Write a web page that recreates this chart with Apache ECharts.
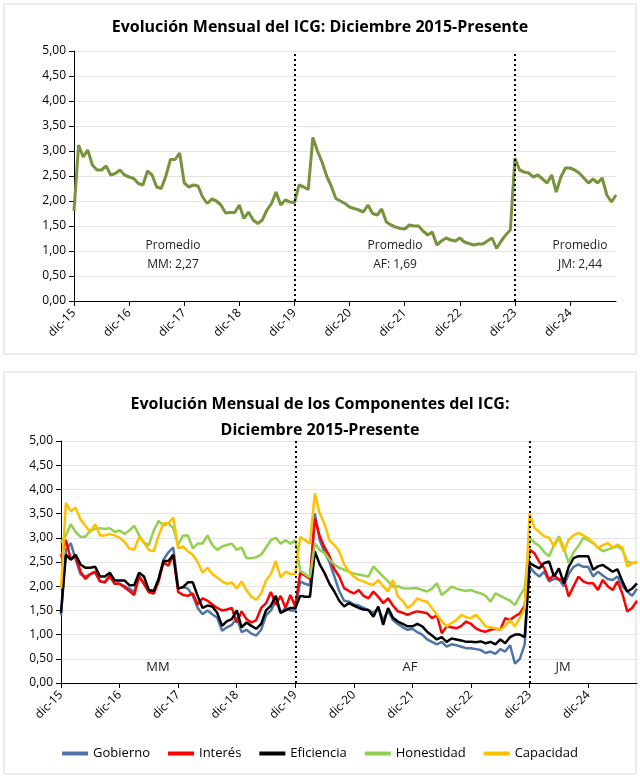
<!DOCTYPE html>
<html><head><meta charset="utf-8">
<script src="https://cdn.jsdelivr.net/npm/echarts@6/dist/echarts.min.js"></script>
<style>body{margin:0;background:#fff}#c{width:640px;height:777px}</style>
</head><body><div id="c"></div>
<script>
// months dic-15 .. oct-25
const months = ['ene','feb','mar','abr','may','jun','jul','ago','sep','oct','nov','dic'];
const categories = [];
for (let i = 0; i < 119; i++) {
  const m = (11 + i) % 12, y = 15 + Math.floor((11 + i) / 12);
  categories.push(months[m] + '-' + y);
}

const icg = [1.80,
 3.12,2.88,3.02,2.72,2.62,2.62,2.70,2.52,2.55,2.62,2.52,2.48,
 2.45,2.35,2.32,2.60,2.52,2.28,2.25,2.50,2.83,2.83,2.96,2.36,
 2.28,2.32,2.30,2.08,1.95,2.04,2.00,1.92,1.76,1.77,1.77,1.92,
 1.65,1.78,1.62,1.55,1.62,1.82,1.95,2.18,1.92,2.02,1.98,1.97,
 2.32,2.28,2.23,3.27,3.00,2.78,2.50,2.30,2.05,2.00,1.95,1.88,
 1.85,1.82,1.78,1.92,1.75,1.72,1.84,1.58,1.52,1.48,1.45,1.44,
 1.52,1.50,1.50,1.40,1.32,1.38,1.12,1.20,1.26,1.22,1.20,1.26,
 1.18,1.15,1.12,1.14,1.14,1.20,1.26,1.05,1.20,1.32,1.42,2.86,
 2.62,2.58,2.56,2.48,2.52,2.44,2.36,2.52,2.18,2.48,2.66,2.66,
 2.62,2.56,2.46,2.36,2.44,2.36,2.46,2.12,1.98,2.12];

const gobierno = [1.40,
 2.75,2.89,2.55,2.25,2.20,2.25,2.28,2.10,2.08,2.20,2.05,2.05,
 2.00,1.95,1.88,2.22,2.05,1.88,1.85,2.15,2.55,2.70,2.80,1.95,
 1.98,1.95,1.80,1.55,1.42,1.50,1.42,1.35,1.08,1.15,1.20,1.35,
 1.05,1.10,1.02,0.98,1.10,1.40,1.50,1.70,1.45,1.55,1.50,1.50,
 2.10,2.05,2.02,3.50,2.95,2.70,2.50,2.20,1.90,1.70,1.68,1.62,
 1.60,1.55,1.50,1.45,1.55,1.30,1.50,1.30,1.22,1.15,1.10,1.12,
 1.05,1.00,0.90,0.85,0.80,0.85,0.75,0.80,0.78,0.75,0.72,0.72,
 0.70,0.68,0.62,0.65,0.60,0.70,0.65,0.78,0.40,0.50,0.80,2.40,
 2.28,2.20,2.30,2.10,2.15,2.15,2.00,2.25,2.40,2.45,2.40,2.40,
 2.20,2.30,2.22,2.15,2.13,2.20,2.00,1.89,1.80,1.95];

const interes = [2.60,
 2.96,2.55,2.62,2.30,2.15,2.25,2.30,2.10,2.08,2.22,2.05,2.05,
 1.98,1.90,1.82,2.20,2.05,1.88,1.85,2.10,2.50,2.42,2.65,1.88,
 1.82,1.80,1.85,1.62,1.75,1.70,1.62,1.55,1.50,1.52,1.55,1.25,
 1.48,1.32,1.25,1.30,1.55,1.65,1.88,1.62,1.80,1.55,1.82,1.58,
 2.28,2.22,2.15,3.40,3.03,2.80,2.62,2.35,2.20,1.96,1.90,1.85,
 1.92,1.80,1.75,1.89,1.78,1.65,1.75,1.60,1.48,1.45,1.41,1.45,
 1.48,1.46,1.44,1.34,1.40,1.03,1.17,1.15,1.13,1.18,1.27,1.22,
 1.13,1.08,1.06,1.10,1.12,1.10,1.34,1.30,1.38,1.44,1.60,2.75,
 2.68,2.50,2.37,2.13,2.24,2.13,2.16,1.79,2.00,2.20,2.10,2.06,
 2.06,1.92,2.13,2.00,1.92,2.10,1.85,1.48,1.55,1.70];

const eficiencia = [1.45,
 2.65,2.55,2.65,2.45,2.38,2.38,2.40,2.20,2.20,2.28,2.12,2.12,
 2.12,2.02,2.02,2.28,2.20,1.92,1.90,2.15,2.52,2.52,2.65,1.95,
 1.98,2.08,2.08,1.80,1.55,1.60,1.58,1.45,1.18,1.28,1.32,1.50,
 1.15,1.25,1.18,1.12,1.22,1.50,1.60,1.80,1.45,1.50,1.55,1.55,
 1.80,1.78,1.78,2.72,2.45,2.27,2.05,1.89,1.70,1.58,1.65,1.60,
 1.55,1.52,1.51,1.37,1.58,1.20,1.55,1.35,1.27,1.22,1.17,1.17,
 1.22,1.17,1.06,0.98,0.90,0.95,0.85,0.92,0.90,0.88,0.85,0.85,
 0.84,0.86,0.82,0.85,0.80,0.90,0.82,0.95,1.00,1.00,0.95,2.48,
 2.42,2.37,2.48,2.51,2.20,2.37,2.06,2.40,2.58,2.62,2.62,2.62,
 2.34,2.41,2.44,2.37,2.30,2.35,2.10,1.89,1.95,2.06];

const honestidad = [2.90,
 3.05,3.28,3.12,3.02,3.02,3.15,3.18,3.20,3.18,3.20,3.12,3.15,
 3.08,3.15,3.25,3.05,2.90,2.85,3.15,3.35,3.25,3.30,3.20,2.85,
 3.05,3.05,2.78,2.88,2.88,3.05,2.85,2.75,2.82,2.85,2.88,2.75,
 2.80,2.58,2.58,2.60,2.65,2.80,2.95,3.00,2.88,2.95,2.88,2.95,
 2.32,2.25,2.18,2.88,2.75,2.68,2.55,2.45,2.38,2.34,2.30,2.26,
 2.24,2.22,2.20,2.41,2.30,2.20,2.10,1.99,2.00,1.96,1.95,1.96,
 1.96,1.92,1.89,1.95,2.06,1.82,1.90,1.99,1.95,1.92,1.90,1.92,
 1.88,1.85,1.80,1.68,1.85,1.80,1.75,1.70,1.61,1.80,1.96,3.00,
 2.90,2.83,2.70,2.62,2.85,3.03,2.79,2.48,2.70,2.83,3.00,2.95,
 2.89,2.80,2.72,2.76,2.79,2.83,2.75,2.51,2.48,2.50];

const capacidad = [1.95,
 3.72,3.55,3.62,3.38,3.25,3.12,3.28,3.05,3.05,3.08,3.05,3.00,
 2.92,2.78,2.75,3.02,2.90,2.75,2.72,3.05,3.30,3.30,3.42,2.78,
 2.82,2.72,2.65,2.50,2.28,2.38,2.25,2.18,2.10,2.05,2.08,1.95,
 2.10,1.92,1.78,1.72,1.85,2.12,2.25,2.52,2.18,2.30,2.25,2.25,
 3.02,2.95,2.88,3.92,3.50,3.28,2.95,2.85,2.72,2.45,2.30,2.20,
 2.13,2.10,2.05,2.03,2.13,2.00,1.89,2.13,1.79,1.70,1.55,1.62,
 1.75,1.70,1.68,1.55,1.41,1.28,1.17,1.24,1.30,1.41,1.36,1.34,
 1.41,1.30,1.17,1.15,1.13,1.10,1.18,1.30,1.17,1.35,1.55,3.50,
 3.20,3.12,3.03,3.00,2.82,3.00,2.72,2.96,3.05,3.10,3.05,2.99,
 2.90,2.79,2.85,2.89,2.80,2.86,2.80,2.41,2.48,2.48];

const periodBreaks = ['dic-19', 'dic-23'];
const font = '"Open Sans", sans-serif';

const chart = echarts.init(document.getElementById('c'));
const xAx = (gi) => ({
  type: 'category', gridIndex: gi, data: categories, boundaryGap: false,
  axisLine: { lineStyle: { color: '#000' } },
  axisTick: { interval: (i) => i % 12 === 0, lineStyle: { color: '#000' }, length: 5 },
  axisLabel: { interval: (i) => i % 12 === 0, rotate: 45, color: '#000', fontSize: 12, fontFamily: font, margin: 10 }
});
const yAx = (gi) => ({
  type: 'value', gridIndex: gi, min: 0, max: 5, interval: 0.5,
  axisLine: { show: true, lineStyle: { color: '#000' } },
  axisTick: { show: true, lineStyle: { color: '#000' } },
  splitLine: { lineStyle: { color: '#e4e4e4' } },
  axisLabel: { color: '#000', fontSize: 12, fontFamily: font, formatter: v => v.toFixed(2).replace('.', ',') }
});
const breaks = {
  silent: true, symbol: 'none', label: { show: false },
  lineStyle: { color: '#000', type: [2, 3], width: 2 },
  data: periodBreaks.map(c => ({ xAxis: c }))
};
const line = (name, data, color, gi, w) => ({
  name, type: 'line', data, xAxisIndex: gi, yAxisIndex: gi, showSymbol: false,
  lineStyle: { color, width: w }, itemStyle: { color }, animation: false
});
// centred text block at (x, y)
const txt = (x, y, t, sz) => ({ type: 'text', x: x, y: y,
  style: { text: t, fill: '#222', font: sz + 'px ' + font, textAlign: 'center', textVerticalAlign: 'top', lineHeight: 19 } });

chart.setOption({
  animation: false,
  title: [
    { text: 'Evolución Mensual del ICG: Diciembre 2015-Presente', left: 'center', top: 14,
      textStyle: { fontSize: 16, fontWeight: 'bold', fontFamily: font, color: '#000' } },
    { text: 'Evolución Mensual de los Componentes del ICG:\nDiciembre 2015-Presente', left: 'center', top: 386,
      textStyle: { fontSize: 16, fontWeight: 'bold', fontFamily: font, color: '#000', lineHeight: 26 } }
  ],
  legend: {
    data: ['Gobierno', 'Interés', 'Eficiencia', 'Honestidad', 'Capacidad'],
    bottom: 12, left: 'center', itemWidth: 26, itemHeight: 4, itemGap: 18, icon: 'rect',
    textStyle: { fontSize: 13, fontFamily: font, color: '#000' }
  },
  graphic: [
    { type: 'rect', shape: { x: 4, y: 4, width: 632, height: 350 }, style: { fill: 'none', stroke: '#d9d9d9' } },
    { type: 'rect', shape: { x: 4, y: 372, width: 632, height: 402 }, style: { fill: 'none', stroke: '#d9d9d9' } },
    txt(173, 236, 'Promedio\nMM: 2,27', 12),
    txt(395, 236, 'Promedio\nAF: 1,69', 12),
    txt(580, 236, 'Promedio\nJM: 2,44', 12),
    txt(158, 658, 'MM', 13), txt(410, 658, 'AF', 13), txt(563, 658, 'JM', 13)
  ],
  grid: [
    { left: 74, right: 24, top: 51, height: 250 },
    { left: 61, right: 3, top: 441, height: 242 }
  ],
  xAxis: [xAx(0), xAx(1)],
  yAxis: [yAx(0), yAx(1)],
  series: [
    Object.assign(line('ICG', icg, '#77933c', 0, 3), { markLine: breaks }),
    Object.assign(line('Gobierno', gobierno, '#4f74a8', 1, 2.5), { markLine: breaks }),
    line('Interés', interes, '#ff0000', 1, 2.5),
    line('Eficiencia', eficiencia, '#000000', 1, 2.5),
    line('Honestidad', honestidad, '#92d050', 1, 2.5),
    line('Capacidad', capacidad, '#ffc000', 1, 2.5)
  ]
});
</script></body></html>
